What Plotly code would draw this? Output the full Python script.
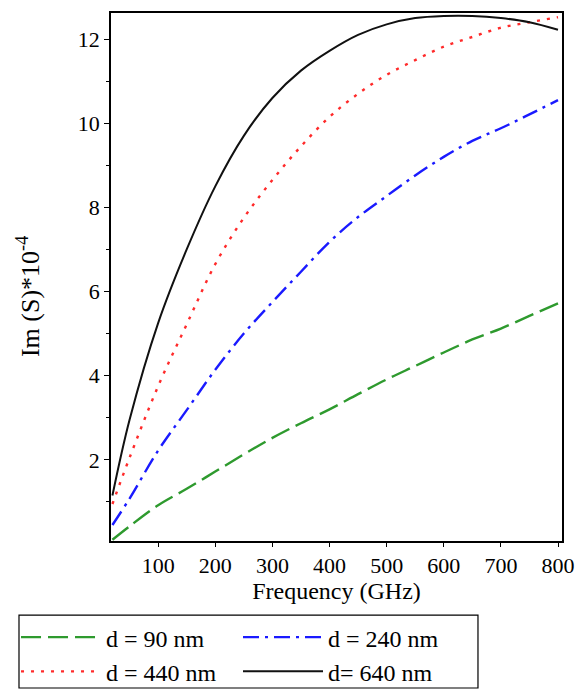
import plotly.graph_objects as go

freq = [20, 50, 100, 150, 200, 250, 300, 350, 400, 450, 500, 550, 600, 650, 700, 750, 800]
d90 = [0.10, 0.42, 0.92, 1.31, 1.72, 2.13, 2.52, 2.87, 3.20, 3.56, 3.91, 4.23, 4.55, 4.86, 5.12, 5.42, 5.72]
d240 = [0.45, 1.08, 2.22, 3.18, 4.14, 5.00, 5.75, 6.47, 7.18, 7.77, 8.27, 8.76, 9.20, 9.58, 9.88, 10.21, 10.55]
d440 = [0.95, 2.05, 3.75, 5.22, 6.65, 7.75, 8.65, 9.45, 10.15, 10.70, 11.15, 11.50, 11.82, 12.05, 12.27, 12.40, 12.52]
d640 = [1.15, 2.95, 5.25, 7.00, 8.50, 9.70, 10.60, 11.25, 11.72, 12.10, 12.35, 12.50, 12.55, 12.55, 12.50, 12.40, 12.22]

names = ["d = 90 nm", "d = 240 nm", "d = 440 nm", "d= 640 nm"]
series = [d90, d240, d440, d640]
colors = ["#2e9a2e", "#1a1aff", "#ff2a2a", "#111111"]
dashes = ["20px,7px", "16px,6px,3px,6px", "3px,7px", "solid"]
widths = [2.4, 2.4, 2.4, 2]
legends = ["legend", "legend2", "legend", "legend2"]

fig = go.Figure()
for n, s, c, d, w, lg in zip(names, series, colors, dashes, widths, legends):
    fig.add_trace(go.Scatter(x=freq, y=s, mode="lines", name=n, legend=lg,
                             line=dict(color=c, dash=d, width=w, shape="spline")))

font = "Liberation Serif"
leg_common = dict(orientation="v", yanchor="top", xanchor="left", bgcolor="rgba(0,0,0,0)",
                  borderwidth=0, font=dict(family=font, size=24, color="black"),
                  itemwidth=80, tracegroupgap=0)
fig.update_layout(
    width=576, height=689,
    margin=dict(l=111, r=14, t=13, b=148, autoexpand=False),
    paper_bgcolor="white", plot_bgcolor="white",
    font=dict(family=font, size=22, color="black"),
    showlegend=True,
    legend=dict(x=-0.2106, y=-0.1402, **leg_common),
    legend2=dict(x=0.2816, y=-0.1402, **leg_common),
    shapes=[dict(type="rect", xref="paper", yref="paper", x0=-0.204, x1=0.8137,
                 y0=-0.2784, y1=-0.1402, line=dict(color="black", width=1.2),
                 fillcolor="rgba(0,0,0,0)", layer="below")],
    annotations=[dict(text="Im (S)*10<sup>-4</sup>", xref="paper", yref="paper",
                      x=-0.184, y=0.462, textangle=-90, showarrow=False,
                      xanchor="center", yanchor="middle",
                      font=dict(family=font, size=26, color="black"))],
    xaxis=dict(range=[17.5, 807], tickvals=[100, 200, 300, 400, 500, 600, 700, 800],
               automargin=False,
               showgrid=False, zeroline=False, showline=True, linecolor="black",
               linewidth=1.5, mirror=True, ticks="outside", ticklen=4, tickcolor="black",
               title=dict(text="Frequency (GHz)", font=dict(family=font, size=24), standoff=2),
               tickfont=dict(family=font, size=22)),
    yaxis=dict(range=[0.07, 12.62], tickvals=[2, 4, 6, 8, 10, 12],
               automargin=False,
               showgrid=False, zeroline=False, showline=True, linecolor="black",
               linewidth=1.5, mirror=True, ticks="outside", ticklen=5, tickcolor="black",
               minor=dict(tickvals=[1, 3, 5, 7, 9, 11], ticks="outside", ticklen=3,
                          tickcolor="black"),
               tickfont=dict(family=font, size=22)),
)

fig.write_html("out.html")
